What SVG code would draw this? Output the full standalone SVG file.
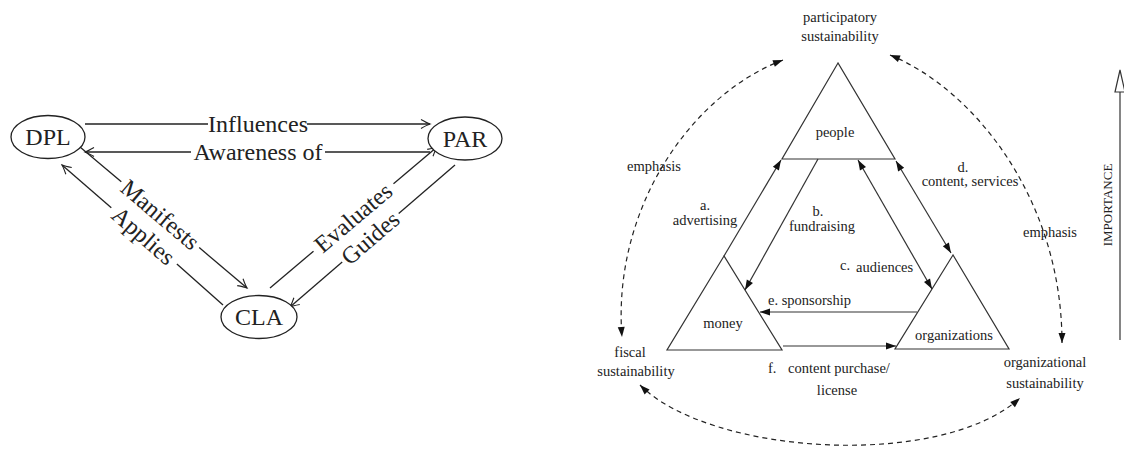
<svg xmlns="http://www.w3.org/2000/svg" width="1124" height="454" viewBox="0 0 1124 454" font-family="'Liberation Serif', 'DejaVu Serif', serif">
<style>
text{font-family:'Liberation Serif','DejaVu Serif',serif}
.lt{font-size:24px;fill:#222;text-anchor:middle}
.rt{font-size:14.5px;fill:#222;text-anchor:middle}
.st{text-anchor:start}
.node{fill:#fff;stroke:#222;stroke-width:1.3}
.tri{fill:#fff;stroke:#333;stroke-width:1.2}
.ll{fill:none;stroke:#222;stroke-width:1.3}
.rl{fill:none;stroke:#333;stroke-width:1.2}
.da{fill:none;stroke:#222;stroke-width:1.2;stroke-dasharray:5,4}
</style>
<defs>
<marker id="la" viewBox="-10 -6 12 12" refX="0" refY="0" markerWidth="12" markerHeight="12" markerUnits="userSpaceOnUse" orient="auto">
<path d="M-9,-4.5 Q-3,-1 0,0 Q-3,1 -9,4.5" fill="none" stroke="#222" stroke-width="1.1"/>
</marker>
<marker id="ra" viewBox="-11 -5 12 10" refX="0" refY="0" markerWidth="12" markerHeight="10" markerUnits="userSpaceOnUse" orient="auto-start-reverse">
<path d="M-10,-3.5 L0,0 L-10,3.5 Z" fill="#111"/>
</marker>
</defs>

<!-- LEFT DIAGRAM -->
<g id="left-connectors">
<line class="ll" x1="85" y1="124" x2="208" y2="124"/>
<line class="ll" x1="307" y1="124" x2="430" y2="124" marker-end="url(#la)"/>
<line class="ll" x1="430" y1="152" x2="325" y2="152"/>
<line class="ll" x1="191" y1="152" x2="85" y2="152" marker-end="url(#la)"/>
<line class="ll" x1="80" y1="147" x2="121.3" y2="181.8"/>
<line class="ll" x1="199.2" y1="247.6" x2="247" y2="288" marker-end="url(#la)"/>
<line class="ll" x1="223" y1="305" x2="176.9" y2="264"/>
<line class="ll" x1="111.3" y1="207.8" x2="62" y2="165" marker-end="url(#la)"/>
<line class="ll" x1="270" y1="288" x2="313.5" y2="251.2"/>
<line class="ll" x1="393.5" y1="183.7" x2="437" y2="147" marker-end="url(#la)"/>
<line class="ll" x1="455" y1="165" x2="398.7" y2="213.5"/>
<line class="ll" x1="342.2" y1="262" x2="290" y2="307" marker-end="url(#la)"/>
<text class="lt" x="258" y="132">Influences</text>
<text class="lt" x="258" y="160">Awareness of</text>
<text class="lt" transform="translate(160.2,214.7) rotate(40.2)" y="8">Manifests</text>
<text class="lt" transform="translate(143.5,235.8) rotate(41)" y="8">Applies</text>
<text class="lt" transform="translate(353.3,217.7) rotate(-40.2)" y="8">Evaluates</text>
<text class="lt" transform="translate(370.3,237.9) rotate(-40.7)" y="8">Guides</text>
</g>
<g id="DPL">
<ellipse class="node" cx="48" cy="137" rx="37" ry="21.5"/>
<text class="lt" x="48" y="145">DPL</text>
</g>
<g id="PAR">
<ellipse class="node" cx="465" cy="138.5" rx="37" ry="21.5"/>
<text class="lt" x="465" y="146.5">PAR</text>
</g>
<g id="CLA">
<ellipse class="node" cx="259" cy="317" rx="38" ry="21.5"/>
<text class="lt" x="259" y="325">CLA</text>
</g>

<!-- RIGHT DIAGRAM -->
<g id="people">
<polygon class="tri" points="838,63 782,159 895,159"/>
<text class="rt" x="835" y="137">people</text>
</g>
<g id="money">
<polygon class="tri" points="724,256 667,350 782,350"/>
<text class="rt" x="723" y="328">money</text>
</g>
<g id="organizations">
<polygon class="tri" points="953,255 895,349 1009,349"/>
<text class="rt" x="954" y="340">organizations</text>
</g>
<g id="right-connectors">
<line class="rl" x1="724" y1="256" x2="781" y2="160" marker-end="url(#ra)"/>
<line class="rl" x1="818" y1="159" x2="745" y2="290" marker-end="url(#ra)"/>
<line class="rl" x1="858" y1="160" x2="932" y2="289" marker-start="url(#ra)" marker-end="url(#ra)"/>
<line class="rl" x1="896" y1="161" x2="951" y2="253" marker-start="url(#ra)" marker-end="url(#ra)"/>
<line class="rl" x1="917" y1="312" x2="760" y2="312" marker-end="url(#ra)"/>
<line class="rl" x1="783" y1="346" x2="896" y2="346" marker-end="url(#ra)"/>
<path class="da" d="M783,60 C690,95 612,210 622,337" marker-start="url(#ra)" marker-end="url(#ra)"/>
<path class="da" d="M890,55 C975,90 1062,200 1062,343" marker-start="url(#ra)" marker-end="url(#ra)"/>
<path class="da" d="M640,385 C710,455 940,470 1020,398" marker-start="url(#ra)" marker-end="url(#ra)"/>
<text class="rt" x="705" y="210">a.</text>
<text class="rt" x="705" y="225">advertising</text>
<text class="rt" x="818" y="216">b.</text>
<text class="rt" x="822" y="231">fundraising</text>
<text class="rt st" x="840" y="270">c.</text>
<text class="rt st" x="856" y="272">audiences</text>
<text class="rt" x="963" y="172">d.</text>
<text class="rt" x="970" y="186">content, services</text>
<text class="rt st" x="768" y="305">e. sponsorship</text>
<text class="rt st" x="768" y="373">f.</text>
<text class="rt st" x="788" y="373">content purchase/</text>
<text class="rt" x="837" y="395">license</text>
<text class="rt" x="654" y="171">emphasis</text>
<text class="rt" x="1050" y="237">emphasis</text>
</g>
<g id="participatory-sustainability">
<text class="rt" x="840" y="22">participatory</text>
<text class="rt" x="840" y="41">sustainability</text>
</g>
<g id="fiscal-sustainability">
<text class="rt" x="630" y="357">fiscal</text>
<text class="rt" x="636" y="376">sustainability</text>
</g>
<g id="organizational-sustainability">
<text class="rt" x="1045" y="367">organizational</text>
<text class="rt" x="1045" y="388">sustainability</text>
</g>
<g id="importance">
<line class="rl" x1="1120" y1="340" x2="1120" y2="92"/>
<polygon points="1120,70 1115,92 1125,92" fill="#fff" stroke="#333" stroke-width="1.2"/>
<text class="rt" transform="translate(1112,205) rotate(-90)" style="font-size:13px">IMPORTANCE</text>
</g>
</svg>
